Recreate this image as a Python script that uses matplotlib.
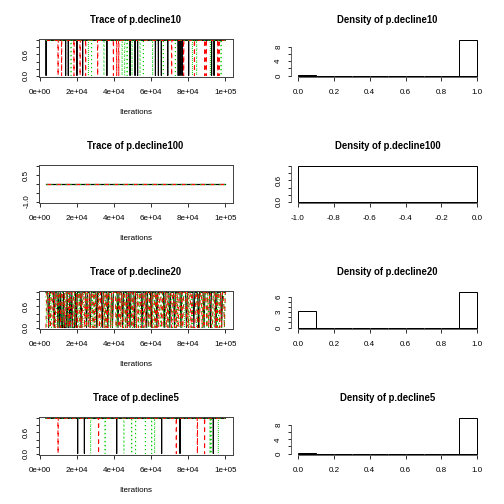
import matplotlib
matplotlib.use('Agg')
import matplotlib.pyplot as plt
import numpy as np

plt.rcParams['font.family'] = ['Liberation Sans', 'DejaVu Sans']
plt.rcParams['font.size'] = 8

# ---- data ----
names = ['p.decline10', 'p.decline100', 'p.decline20', 'p.decline5']

it_start = 3000
it_end = 100000

# iterations where each chain drops to 0 (black, red, green)
dec10_zero = [
    [3100, 13700, 15100, 19800, 22900, 36000, 48500, 51200, 52600, 62200,
     63800, 65400, 68900, 74500, 75500, 76600, 80200, 92600, 93900],
    [9600, 11500, 18200, 21500, 24500, 31000, 39500, 41300, 42400, 71000,
     77500, 83300, 88900, 89700, 95900, 96600],
    [16600, 26000, 27700, 34400, 44200, 45600, 46900, 49600, 53900, 55700,
     60700, 66500, 73000, 82200, 84500, 91900, 97700],
]
dec5_zero = [
    [20200, 23800, 41300, 65600, 75500, 93500],
    [9600, 31500, 73500, 84900, 88800],
    [27200, 35000, 45200, 49400, 51500, 56800, 60200, 61800, 91700, 92300, 96200],
]
# p.decline20 switches all the time: state every 500 iterations from 3000
dec20_step = 500
dec20_state = [
    "111011111011101" "010010001001010" "001011110111110" "111011111101111"
    "101111101111011" "111011110111101" "101111011111110" "111101111011111"
    "011111110111110" "111101111110111" "110111111101111" "011111011111101"
    "111101111101111",
    "011010110101101" "101101011010110" "110101101011010" "101011010110101"
    "011010101101011" "101101010110101" "011010110101101" "101011010101101"
    "010110101101011" "101101010110101" "110101101000110" "101101011010110"
    "011010110101101",
    "101101011011010" "110101101011011" "010110101101101" "101101010110110"
    "011010110101011" "101011011010110" "110101101101011" "011011010110101"
    "101101101011010" "110110101101011" "011010110111101" "101101011010110"
    "010110101101101",
]
# p.decline100 stays at 0 in every chain
dec100_value = 0.0

# density (histogram) heights, bins of width 0.1
bins01 = [0.0, 0.1, 0.2, 0.3, 0.4, 0.5, 0.6, 0.7, 0.8, 0.9, 1.0]
dens10 = [0.3, 0, 0, 0, 0, 0, 0, 0, 0, 9.7]
dens20 = [3.2, 0, 0, 0, 0, 0, 0, 0, 0, 6.8]
dens5 = [0.1, 0, 0, 0, 0, 0, 0, 0, 0, 9.9]
bins100 = [-1.0, 0.0]
dens100 = [1.0]

chain_cols = ['black', '#FF0000', '#00CD00']
chain_dash = [None, (4, 4), (1, 3)]

W = 504.0


def trace_series(zero_list):
    x = np.arange(it_start, it_end + 1, 100)
    y = np.ones(len(x))
    for z in zero_list:
        y[np.argmin(abs(x - z))] = 0
    return x, y


def rexp(lo, hi):
    d = (hi - lo) * 0.04
    return lo - d, hi + d


def style_ticks(ax):
    ax.tick_params(direction='out', length=3.5, width=0.8)
    ax.tick_params(axis='x', pad=8)
    ax.tick_params(axis='y', pad=5)


def trace_axes(row):
    top = 39 + 126 * row
    ax = fig.add_axes([38.7 / W, 1 - (top + 38) / W, 193.8 / W, 38 / W])
    ax.set_xlim(rexp(it_start, it_end))
    ax.set_xticks([0, 20000, 40000, 60000, 80000, 100000])
    ax.set_xticklabels(['0e+00', '2e+04', '4e+04', '6e+04', '8e+04', '1e+05'])
    ax.set_xlabel('Iterations', labelpad=13)
    ax.set_title('Trace of ' + names[row], fontsize=9.5, fontweight='bold', pad=16)
    for s in ax.spines.values():
        s.set_linewidth(1)
        s.set_color('#444444')
    style_ticks(ax)
    return ax


def dens_axes(row):
    top = 39 + 126 * row
    ax = fig.add_axes([290.8 / W, 1 - (top + 38) / W, 193.7 / W, 38 / W])
    ax.set_title('Density of ' + names[row], fontsize=9.5, fontweight='bold', pad=16)
    for k in ['top', 'right']:
        ax.spines[k].set_visible(False)
    for k in ['left', 'bottom']:
        ax.spines[k].set_linewidth(0.8)
        ax.spines[k].set_color('#444444')
    style_ticks(ax)
    return ax


def ylabels(ax, ticks, labels):
    ax.set_yticks(ticks)
    ax.set_yticklabels(labels, rotation=90, va='center')


fig = plt.figure(figsize=(7, 7), dpi=72)

# ---- trace plots ----
for row, name in enumerate(names):
    ax = trace_axes(row)
    if name == 'p.decline100':
        x = np.arange(it_start, it_end + 1, 1000)
        for c in range(3):
            ln, = ax.plot(x, np.full(len(x), dec100_value), color=chain_cols[c], lw=1.2)
            if chain_dash[c]:
                ln.set_dashes(chain_dash[c])
        ax.set_ylim(rexp(-1, 1))
        ylabels(ax, [-1, -0.5, 0, 0.5, 1], ['-1.0', '', '', '0.5', ''])
        continue
    for c in range(3):
        if name == 'p.decline20':
            s = dec20_state[c]
            x = it_start + dec20_step * np.arange(len(s))
            y = np.array([int(ch) for ch in s], dtype=float)
        elif name == 'p.decline10':
            x, y = trace_series(dec10_zero[c])
        else:
            x, y = trace_series(dec5_zero[c])
        ln, = ax.plot(x, y, color=chain_cols[c], lw=1)
        if chain_dash[c]:
            ln.set_dashes(chain_dash[c])
    ax.set_ylim(rexp(0, 1))
    ylabels(ax, [0, 0.2, 0.4, 0.6, 0.8, 1.0], ['0.0', '', '', '0.6', '', ''])

# ---- density plots ----
dens_data = [(bins01, dens10, [0, 2, 4, 6, 8], ['0', '', '4', '', '8']),
             (bins100, dens100, [0, 0.2, 0.4, 0.6, 0.8, 1.0], ['0.0', '', '', '0.6', '', '']),
             (bins01, dens20, [0, 1, 2, 3, 4, 5, 6], ['0', '', '', '3', '', '', '6']),
             (bins01, dens5, [0, 2, 4, 6, 8], ['0', '', '4', '', '8'])]
for row, (edges, h, yt, yl) in enumerate(dens_data):
    ax = dens_axes(row)
    edges = np.array(edges)
    ax.bar(edges[:-1], h, width=np.diff(edges), align='edge', fill=False,
           edgecolor='black', linewidth=1)
    ax.set_xlim(rexp(edges[0], edges[-1]))
    ax.set_ylim(rexp(0, max(h)))
    xt = np.round(np.linspace(edges[0], edges[-1], 6), 1)
    ax.set_xticks(xt)
    ax.set_xticklabels(['%.1f' % v for v in xt])
    ax.spines['bottom'].set_bounds(edges[0], edges[-1])
    ax.spines['left'].set_bounds(yt[0], yt[-1])
    ylabels(ax, yt, yl)

fig.savefig('out.png', dpi=72)
